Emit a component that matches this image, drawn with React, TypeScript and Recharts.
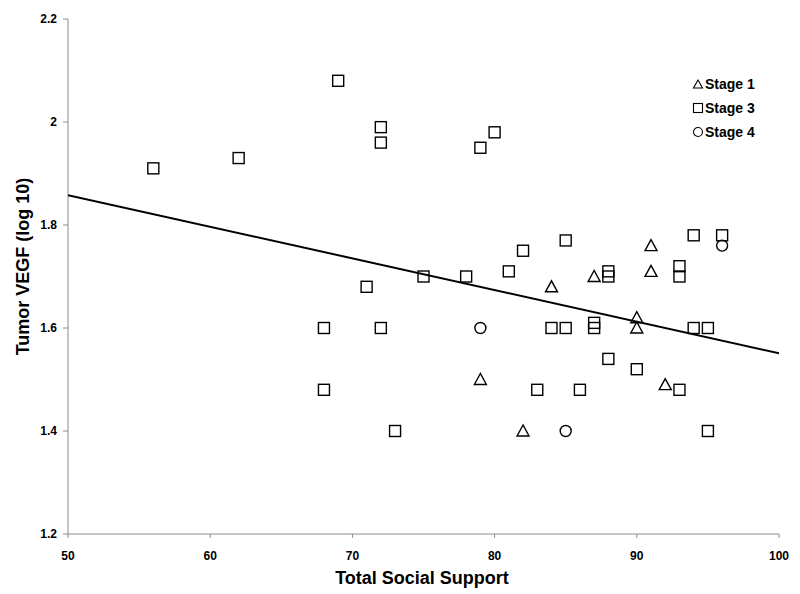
import React from 'react';
import { ScatterChart, Scatter, XAxis, YAxis, Legend, Label } from 'recharts';

const FONT = '"Liberation Sans", Arial, Helvetica, sans-serif';

// Stage 1 (triangles)
const stage1X = [79, 82, 84, 87, 90, 90, 91, 91, 92];
const stage1Y = [1.5, 1.4, 1.68, 1.7, 1.62, 1.6, 1.76, 1.71, 1.49];

// Stage 3 (squares)
const stage3X = [56, 62, 68, 68, 69, 71, 72, 72, 72, 73, 75, 78, 79, 80, 81, 82, 83, 84, 85, 85, 86, 87, 87, 88, 88, 88, 90, 93, 93, 93, 94, 94, 95, 95, 96];
const stage3Y = [1.91, 1.93, 1.6, 1.48, 2.08, 1.68, 1.99, 1.96, 1.6, 1.4, 1.7, 1.7, 1.95, 1.98, 1.71, 1.75, 1.48, 1.6, 1.77, 1.6, 1.48, 1.61, 1.6, 1.71, 1.7, 1.54, 1.52, 1.72, 1.7, 1.48, 1.78, 1.6, 1.6, 1.4, 1.78];

// Stage 4 (circles)
const stage4X = [79, 85, 96];
const stage4Y = [1.6, 1.4, 1.76];

// Regression line end points
const trendX = [50, 100];
const trendY = [1.858, 1.551];

const xTicks = [50, 60, 70, 80, 90, 100];
const yTicks = [1.2, 1.4, 1.6, 1.8, 2, 2.2];
const legendLabels = ['Stage 1', 'Stage 3', 'Stage 4'];
const legendShapes = ['triangle', 'square', 'circle'];

const zip = (xs: number[], ys: number[]) => xs.map((x, i) => ({ x, y: ys[i] }));

const stage1 = zip(stage1X, stage1Y);
const stage3 = zip(stage3X, stage3Y);
const stage4 = zip(stage4X, stage4Y);
const trend = zip(trendX, trendY);

const SW = 1.4;

const TriangleShape = (p: any) => (
  <polygon
    points={`${p.cx},${p.cy - 6} ${p.cx - 6},${p.cy + 5} ${p.cx + 6},${p.cy + 5}`}
    fill="none"
    stroke="#000"
    strokeWidth={SW}
  />
);
const SquareShape = (p: any) => (
  <rect x={p.cx - 5.5} y={p.cy - 5.5} width={11} height={11} fill="none" stroke="#000" strokeWidth={SW} />
);
const CircleShape = (p: any) => (
  <circle cx={p.cx} cy={p.cy} r={5.5} fill="none" stroke="#000" strokeWidth={SW} />
);

const LegendIcon = ({ kind }: { kind: string }) => (
  <svg width={12} height={12} style={{ display: 'inline-block', verticalAlign: 'middle', marginRight: 1 }}>
    {kind === 'triangle' && <polygon points="6,2 1.5,10 10.5,10" fill="none" stroke="#000" strokeWidth={1.1} />}
    {kind === 'square' && <rect x={1.5} y={1.5} width={9} height={9} fill="none" stroke="#000" strokeWidth={1.1} />}
    {kind === 'circle' && <circle cx={6} cy={6} r={4.5} fill="none" stroke="#000" strokeWidth={1.1} />}
  </svg>
);

const LegendContent = () => (
  <div style={{ fontFamily: FONT, fontWeight: 'bold', fontSize: 14, color: '#000' }}>
    {legendLabels.map((l, i) => (
      <div key={l} style={{ height: 24, lineHeight: '24px', whiteSpace: 'nowrap' }}>
        <LegendIcon kind={legendShapes[i]} />
        <span style={{ verticalAlign: 'middle' }}>{l}</span>
      </div>
    ))}
  </div>
);

const YLabel = (props: any) => {
  const vb = props.viewBox || { x: 0, y: 11, width: 60, height: 515 };
  const x = vb.x + 21;
  const y = vb.y + vb.height / 2 - 10;
  return (
    <text
      x={x}
      y={y}
      transform={`rotate(-90 ${x} ${y})`}
      textAnchor="middle"
      fontFamily={FONT}
      fontWeight="bold"
      fontSize={18}
      fill="#000"
    >
      Tumor VEGF (log 10)
    </text>
  );
};

const XLabel = (props: any) => {
  const vb = props.viewBox || { x: 60, y: 526, width: 711, height: 51 };
  const x = vb.x + vb.width / 2 - 1.5;
  const y = vb.y + vb.height - 1;
  return (
    <text x={x} y={y} textAnchor="middle" fontFamily={FONT} fontWeight="bold" fontSize={18} fill="#000">
      Total Social Support
    </text>
  );
};

const tickStyle = { fill: '#000', fontSize: 12, fontWeight: 'bold', fontFamily: FONT } as any;

export default function App() {
  return (
    <div style={{ width: 792, height: 586 }}>
      <ScatterChart width={792} height={586} margin={{ top: 11, right: 21, bottom: 9, left: 0 }}>
        <XAxis
          type="number"
          dataKey="x"
          domain={[50, 100]}
          ticks={xTicks}
          allowDataOverflow
          height={51}
          stroke="#8c8c8c"
          tickSize={4}
          tickMargin={13}
          tick={tickStyle}
          tickLine={{ stroke: '#8c8c8c' }}
        >
          <Label content={XLabel} />
        </XAxis>
        <YAxis
          type="number"
          dataKey="y"
          domain={[1.2, 2.2]}
          ticks={yTicks}
          allowDataOverflow
          width={60}
          stroke="#8c8c8c"
          tickSize={5}
          tickMargin={6}
          tick={tickStyle}
          tickLine={{ stroke: '#8c8c8c' }}
        >
          <Label content={YLabel} />
        </YAxis>
        <Legend
          layout="horizontal"
          verticalAlign="middle"
          align="center"
          content={LegendContent}
          wrapperStyle={{ top: 63, left: 684, width: 90, height: 72 }}
        />
        <Scatter
          name="trend"
          data={trend}
          line={{ stroke: '#000', strokeWidth: 2 }}
          shape={() => <g />}
          legendType="none"
          isAnimationActive={false}
        />
        <Scatter name="Stage 1" data={stage1} shape={TriangleShape} isAnimationActive={false} />
        <Scatter name="Stage 3" data={stage3} shape={SquareShape} isAnimationActive={false} />
        <Scatter name="Stage 4" data={stage4} shape={CircleShape} isAnimationActive={false} />
      </ScatterChart>
    </div>
  );
}
